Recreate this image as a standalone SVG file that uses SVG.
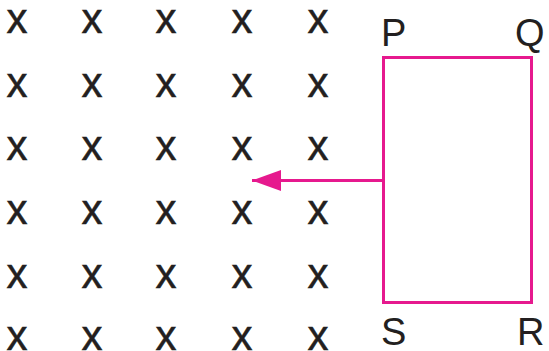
<svg xmlns="http://www.w3.org/2000/svg" width="549" height="351" viewBox="0 0 549 351">
<style>
.x{font-family:"Liberation Sans",Arial,sans-serif;font-size:42px;fill:#231f20;stroke:#231f20;stroke-width:0.5;text-anchor:middle}
.lbl{font-family:"Liberation Sans",Arial,sans-serif;font-size:38px;fill:#231f20}
.loop{fill:none;stroke:#E6198E;stroke-width:3}
</style>
<defs>
<marker id="ah" markerUnits="userSpaceOnUse" markerWidth="30" markerHeight="22" refX="29" refY="11" orient="auto">
<path d="M0,0.5 L29,11 L0,21.5 Z" fill="#E6198E"/>
</marker>
</defs>
<rect width="549" height="351" fill="#fff"/>
<g id="field">
<g id="row1"><text class="x" x="17" y="33">x</text><text class="x" x="92" y="33">x</text><text class="x" x="166" y="33">x</text><text class="x" x="242" y="33">x</text><text class="x" x="318" y="33">x</text></g>
<g id="row2"><text class="x" x="17" y="97">x</text><text class="x" x="92" y="97">x</text><text class="x" x="166" y="97">x</text><text class="x" x="242" y="97">x</text><text class="x" x="318" y="97">x</text></g>
<g id="row3"><text class="x" x="17" y="160">x</text><text class="x" x="92" y="160">x</text><text class="x" x="166" y="160">x</text><text class="x" x="242" y="160">x</text><text class="x" x="318" y="160">x</text></g>
<g id="row4"><text class="x" x="17" y="224">x</text><text class="x" x="92" y="224">x</text><text class="x" x="166" y="224">x</text><text class="x" x="242" y="224">x</text><text class="x" x="318" y="224">x</text></g>
<g id="row5"><text class="x" x="17" y="288">x</text><text class="x" x="92" y="288">x</text><text class="x" x="166" y="288">x</text><text class="x" x="242" y="288">x</text><text class="x" x="318" y="288">x</text></g>
<g id="row6"><text class="x" x="17" y="350">x</text><text class="x" x="92" y="350">x</text><text class="x" x="166" y="350">x</text><text class="x" x="242" y="350">x</text><text class="x" x="318" y="350">x</text></g>
</g>
<g id="loop">
<rect class="loop" x="383.5" y="57.5" width="148" height="245"/>
</g>
<g id="connectors">
<path d="M383,180.5 L252,180.5" stroke="#E6198E" stroke-width="3" fill="none" marker-end="url(#ah)"/>
</g>
<g id="labels">
<text class="lbl" x="381" y="46">P</text>
<text class="lbl" x="515" y="46">Q</text>
<text class="lbl" x="381" y="345">S</text>
<text class="lbl" x="517" y="345">R</text>
</g>
</svg>
